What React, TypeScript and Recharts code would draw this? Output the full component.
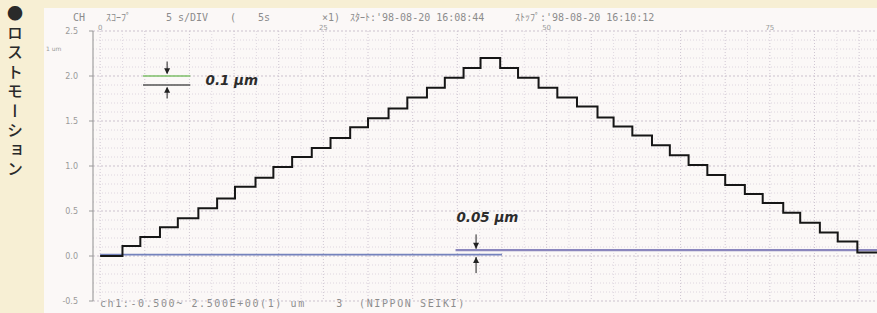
import { LineChart, Line, XAxis, YAxis, ReferenceLine, ReferenceDot } from 'recharts'

// Lost-motion staircase: time (s) where each level starts, and the level (um)
const stepTimes = [
  0, 2.5, 4.5, 6.7, 8.7, 11.0, 13.1, 15.1, 17.4, 19.4, 21.5, 23.7, 25.8, 28.0, 30.0, 32.3, 34.4, 36.6,
  38.6, 40.7, 42.6, 44.8, 46.8, 49.1, 51.2, 53.4, 55.7, 57.5, 59.6, 61.8, 63.8, 65.9, 68.0, 70.0,
  72.2, 74.2, 76.5, 78.4, 80.6, 82.6, 84.8, 87,
]
const stepLevels = [
  0, 0.11, 0.21, 0.32, 0.42, 0.53, 0.64, 0.77, 0.87, 0.99, 1.1, 1.2, 1.31, 1.43, 1.53, 1.64, 1.76, 1.87,
  1.98, 2.09, 2.2, 2.09, 1.98, 1.87, 1.76, 1.66, 1.54, 1.44, 1.34, 1.23, 1.12, 1.01, 0.9, 0.79,
  0.69, 0.59, 0.48, 0.37, 0.26, 0.16, 0.04, 0.04,
]

const yTicks = [-0.5, 0, 0.5, 1, 1.5, 2, 2.5]
const xTicks = [0, 25, 50, 75]

// fine chart-paper grid
const gridY = [
  -0.4, -0.3, -0.2, -0.1, 0.1, 0.2, 0.3, 0.4, 0.6, 0.7, 0.8, 0.9, 1.1, 1.2, 1.3, 1.4, 1.6, 1.7, 1.8,
  1.9, 2.1, 2.2, 2.3, 2.4,
]
const gridYMajor = [-0.5, 0, 0.5, 1, 1.5, 2, 2.5]
const gridX = [
  2.5, 7.5, 12.5, 17.5, 22.5, 27.5, 32.5, 37.5, 42.5, 47.5, 52.5, 57.5, 62.5, 67.5, 72.5, 77.5, 82.5,
]
const gridXMajor = [0, 5, 10, 15, 20, 25, 30, 35, 40, 45, 50, 55, 60, 65, 70, 75, 80, 85]

// baselines (start / return position)
const baseStart = [{ x: 0, y: 0.015 }, { x: 45, y: 0.015 }]
const baseReturn = [{ x: 39.8, y: 0.065 }, { x: 87, y: 0.065 }]

// 0.1 um marker
const markTop = [{ x: 4.8, y: 2.0 }, { x: 10.1, y: 2.0 }]
const markBottom = [{ x: 4.8, y: 1.9 }, { x: 10.1, y: 1.9 }]
const markArrowDown = [{ x: 7.5, y: 2.16 }, { x: 7.5, y: 2.03 }]
const markArrowUp = [{ x: 7.5, y: 1.75 }, { x: 7.5, y: 1.87 }]

// 0.05 um marker
const lostArrowDown = [{ x: 42.1, y: 0.24 }, { x: 42.1, y: 0.08 }]
const lostArrowUp = [{ x: 42.1, y: -0.19 }, { x: 42.1, y: -0.01 }]

const data = stepTimes.map((t, i) => ({ t, v: stepLevels[i] }))

const Head = ({ dir, cx, cy }: any) => {
  if (cx == null || cy == null) return null
  const d = dir === 'down'
    ? `M${cx - 3},${cy - 6} L${cx + 3},${cy - 6} L${cx},${cy} Z`
    : `M${cx - 3},${cy + 6} L${cx + 3},${cy + 6} L${cx},${cy} Z`
  return <path d={d} fill="#222" />
}

const Label = ({ text, cx, cy }: any) => {
  if (cx == null || cy == null) return null
  return (
    <text
      x={cx}
      y={cy}
      dominantBaseline="central"
      fontFamily="DejaVu Sans, sans-serif"
      fontStyle="italic"
      fontWeight={700}
      fontSize={13.5}
      fill="#2c2c2c"
    >
      {text}
    </text>
  )
}

const headerStyle = {
  position: 'absolute' as const,
  top: 12,
  fontSize: 10,
  fontFamily: 'DejaVu Sans Mono, Noto Sans CJK JP, monospace',
  color: '#8c8c8c',
  whiteSpace: 'pre' as const,
  lineHeight: '12px',
}

const header: [number, string][] = [
  [73, 'CH'],
  [106, 'ｽｺｰﾌﾟ'],
  [166, '5'],
  [178, 's/DIV'],
  [230, '('],
  [258, '5s'],
  [322, '×1)'],
  [350, "ｽﾀｰﾄ:'98-08-20 16:08:44"],
  [515, "ｽﾄｯﾌﾟ:'98-08-20 16:10:12"],
]

export default function App() {
  return (
    <div
      style={{
        position: 'absolute',
        left: 0,
        top: 0,
        width: 877,
        height: 313,
        background: '#f7efd4',
        overflow: 'hidden',
      }}
    >
      <div
        style={{
          position: 'absolute',
          left: 3,
          top: 5,
          writingMode: 'vertical-rl',
          fontFamily: 'Noto Sans CJK JP, sans-serif',
          fontSize: 16,
          letterSpacing: 3.5,
          color: '#2a2a2a',
          fontWeight: 500,
        }}
      >
        ●ロストモーション
      </div>
      <div
        style={{
          position: 'absolute',
          left: 44,
          top: 8,
          right: 0,
          bottom: 0,
          background: '#fbf8f7',
        }}
      />
      {header.map(([x, s]) => (
        <span key={x} style={{ ...headerStyle, left: x }}>
          {s}
        </span>
      ))}
      <span
        style={{
          position: 'absolute',
          left: 46,
          top: 45,
          fontSize: 6,
          fontFamily: 'DejaVu Sans, sans-serif',
          color: '#999',
        }}
      >
        1 um
      </span>
      <span
        style={{
          position: 'absolute',
          left: 100,
          top: 298,
          fontSize: 10,
          letterSpacing: 1.6,
          fontFamily: 'DejaVu Sans Mono, monospace',
          color: '#8c8c8c',
          whiteSpace: 'pre',
          lineHeight: '12px',
        }}
      >
        {'ch1:-0.500~ 2.500E+00(1) um    3  (NIPPON SEIKI)'}
      </span>
      <div style={{ position: 'absolute', left: 0, top: 0 }}>
        <LineChart
          width={877}
          height={313}
          data={data}
          margin={{ top: 21, right: 0, bottom: 12, left: 53 }}
        >
          <XAxis
            dataKey="t"
            type="number"
            domain={[-0.8, 87]}
            allowDataOverflow
            ticks={xTicks}
            interval={0}
            orientation="top"
            height={10}
            axisLine={false}
            tickLine={false}
            tickSize={0}
            tickMargin={1}
            tick={{ fontSize: 7, fill: '#9a9a9a', fontFamily: 'DejaVu Sans, sans-serif' }}
          />
          <YAxis
            type="number"
            domain={[-0.5, 2.5]}
            allowDataOverflow
            ticks={yTicks}
            interval={0}
            width={40}
            axisLine={{ stroke: '#8f8f8f' }}
            tickLine={{ stroke: '#9a9a9a' }}
            tickSize={4}
            tickMargin={11}
            tickFormatter={(v: number) => v.toFixed(1)}
            tick={{ fontSize: 8, fill: '#9a9a9a', fontFamily: 'DejaVu Sans, sans-serif' }}
          />
          {gridY.map((v) => (
            <ReferenceLine key={'gy' + v} y={v} stroke="#ded6df" strokeDasharray="1 2" />
          ))}
          {gridYMajor.map((v) => (
            <ReferenceLine key={'gY' + v} y={v} stroke="#cbc1cd" strokeDasharray="2 2" />
          ))}
          {gridX.map((v) => (
            <ReferenceLine key={'gx' + v} x={v} stroke="#e0d9e1" strokeDasharray="1 2" />
          ))}
          {gridXMajor.map((v) => (
            <ReferenceLine key={'gX' + v} x={v} stroke="#cfc6d2" strokeDasharray="1 2" />
          ))}
          <ReferenceLine segment={baseStart} stroke="#7482bd" strokeWidth={1.6} />
          <ReferenceLine segment={baseReturn} stroke="#8a86bd" strokeWidth={2.4} />
          <Line
            type="stepAfter"
            dataKey="v"
            stroke="#161616"
            strokeWidth={2}
            dot={false}
            isAnimationActive={false}
          />
          <ReferenceLine segment={markTop} stroke="#7fc06a" strokeWidth={1.6} />
          <ReferenceLine segment={markBottom} stroke="#555" strokeWidth={1.6} />
          <ReferenceLine segment={markArrowDown} stroke="#222" strokeWidth={1} />
          <ReferenceLine segment={markArrowUp} stroke="#222" strokeWidth={1} />
          <ReferenceDot x={7.5} y={2.02} r={0} shape={(p: any) => <Head {...p} dir="down" />} />
          <ReferenceDot x={7.5} y={1.88} r={0} shape={(p: any) => <Head {...p} dir="up" />} />
          <ReferenceDot x={11.8} y={1.96} r={0} shape={(p: any) => <Label {...p} text="0.1 µm" />} />
          <ReferenceLine segment={lostArrowDown} stroke="#222" strokeWidth={1} />
          <ReferenceLine segment={lostArrowUp} stroke="#222" strokeWidth={1} />
          <ReferenceDot x={42.1} y={0.08} r={0} shape={(p: any) => <Head {...p} dir="down" />} />
          <ReferenceDot x={42.1} y={-0.01} r={0} shape={(p: any) => <Head {...p} dir="up" />} />
          <ReferenceDot x={39.9} y={0.43} r={0} shape={(p: any) => <Label {...p} text="0.05 µm" />} />
        </LineChart>
      </div>
    </div>
  )
}
